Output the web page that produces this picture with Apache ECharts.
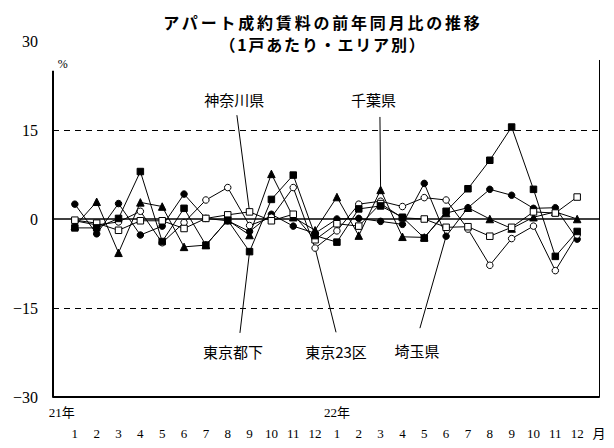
<!DOCTYPE html>
<html><head><meta charset="utf-8">
<script src="https://cdn.jsdelivr.net/npm/echarts@6/dist/echarts.min.js"></script>
<style>html,body{margin:0;padding:0;background:#fff}#c{width:614px;height:448px}</style>
</head><body><div id="c"></div>
<script>
// ---- data ----
const months = ['1','2','3','4','5','6','7','8','9','10','11','12','1','2','3','4','5','6','7','8','9','10','11','12'];
const years = ['21年', '22年'];
const unitX = '月';
const unitY = '%';
const yTicks = [-30, -15, 0, 15, 30];
const yTickLabels = ['−30', '−15', '0', '15', '30'];
const titleLines = ['アパート成約賃料の前年同月比の推移', '（1戸あたり・エリア別）'];
const regionNames = ['東京23区', '東京都下', '神奈川県', '埼玉県', '千葉県'];

const tokyo23 =   [-0.3, -1.0, -0.5, 1.3, -4.0, -0.6, 3.2, 5.3, -1.1, 0.3, 5.3, -4.9, -2.0, 2.5, 3.0, 2.1, 3.6, 3.2, -1.7, -7.8, -3.3, -1.2, -8.7, -2.7];
const tokyoSub =  [-1.5, -1.5, 0.1, 8.0, -3.8, 1.8, -4.4, -0.2, -5.5, 3.3, 7.4, -2.8, -3.9, 1.7, 2.2, 0.3, -3.2, 1.3, 5.1, 9.9, 15.5, 5.0, -6.3, -2.1];
const kanagawa =  [-0.2, -0.7, -1.9, -0.3, -0.3, -1.6, 0.1, 0.7, 1.2, -0.3, 0.8, -3.5, -0.8, -1.2, 2.6, 0.2, 0.0, -1.4, -1.3, -2.9, -1.4, 1.2, 1.0, 3.7];
const saitama =   [2.5, -2.5, 2.6, -2.7, -1.2, 4.2, 0.1, -0.3, -2.1, 0.8, -1.2, -2.4, 0.0, 0.1, -0.4, -0.9, 6.0, -2.9, 1.9, 5.0, 4.0, 1.8, 1.9, -3.4];
const chiba =     [-1.2, 2.9, -5.7, 2.8, 2.1, -4.7, -4.4, -0.2, -2.7, 7.6, 0.3, -1.9, 3.7, -2.8, 4.9, -3.0, -3.1, 1.0, 1.9, 0.0, -1.6, 0.3, 1.2, 0.0];

// ---- chart ----
const numFont = "'Liberation Serif','Noto Sans CJK JP',serif";
const cjkFont = "'Noto Sans CJK JP',sans-serif";
const chart = echarts.init(document.getElementById('c'), null, {renderer: 'svg'});

function mk(name, values, symbol, filled, z) {
  return {
    name: name, type: 'line', z: z,
    data: values.map((v, i) => [i, v]),
    symbol: symbol, symbolSize: symbol === 'triangle' ? 7.5 : 6.5,
    showSymbol: true, silent: true, clip: false,
    lineStyle: {color: '#000', width: 1},
    itemStyle: {color: filled ? '#000' : '#fff', borderColor: '#000', borderWidth: 1},
    emphasis: {disabled: true}
  };
}

const last = months.length - 1;
const sChiba = mk(regionNames[4], chiba, 'triangle', true, 3);
const sSaitama = mk(regionNames[3], saitama, 'circle', true, 4);
const sT23 = mk(regionNames[0], tokyo23, 'circle', false, 5);
const sKana = mk(regionNames[2], kanagawa, 'rect', false, 6);
const sTSub = mk(regionNames[1], tokyoSub, 'rect', true, 7);

const dash = {color: '#000', width: 1, type: [6, 5]};
sChiba.markLine = {
  silent: true, symbol: ['none', 'none'], label: {show: false}, animation: false,
  lineStyle: {color: '#000', width: 1, type: 'solid'},
  data: [
    [{coord: [-1, 15], lineStyle: dash}, {coord: [24, 15]}],
    [{coord: [-1, -15], lineStyle: dash}, {coord: [24, -15]}],
    [{coord: [-1, 0], lineStyle: {color: '#000', width: 1.5, type: 'solid'}}, {coord: [24, 0]}],
    [{coord: [-1, -30], lineStyle: {color: '#000', width: 2, type: 'solid'}}, {coord: [-1, 25]}],
    [{coord: [24, -30], lineStyle: {color: '#000', width: 1, type: 'solid'}}, {coord: [24, 26.8]}],
    // leader lines
    [{coord: [7.42, 17.5]}, {coord: [8, kanagawa[8]]}],
    [{coord: [13.97, 17.2]}, {coord: [14, chiba[14]]}],
    [{coord: [7.56, -19.2]}, {coord: [8, tokyoSub[8]]}],
    [{coord: [11.96, -19.1]}, {coord: [11, tokyo23[11]]}],
    [{coord: [15.8, -18.4]}, {coord: [17, saitama[17]]}]
  ]
};
sChiba.markPoint = {
  silent: true, animation: false,
  symbol: 'circle', symbolSize: 1, itemStyle: {color: 'rgba(0,0,0,0)'},
  label: {show: true, position: 'inside', formatter: '{b}', color: '#000', fontSize: 15, fontFamily: cjkFont},
  data: [
    {name: regionNames[2], coord: [7.3, 20.1]},
    {name: regionNames[4], coord: [13.67, 20.1]},
    {name: regionNames[1], coord: [7.24, -22.4]},
    {name: regionNames[0], coord: [11.96, -22.4]},
    {name: regionNames[3], coord: [15.67, -22.1]}
  ]
};

const option = {
  animation: false,
  backgroundColor: '#fff',
  title: {
    text: titleLines.join('\n'), left: 323, top: 11, textAlign: 'center', padding: 0,
    textStyle: {fontSize: 16, fontWeight: 'bold', fontFamily: cjkFont, color: '#000', lineHeight: 22}
  },
  grid: {left: 53, right: 15, top: 41, bottom: 51, containLabel: false},
  xAxis: {
    type: 'value', min: -1, max: 24, interval: 1,
    axisLine: {show: true, onZero: false, lineStyle: {color: '#000', width: 2}},
    axisTick: {show: false}, splitLine: {show: false},
    axisLabel: {
      margin: 30, fontSize: 13, fontFamily: numFont, color: '#000',
      showMinLabel: true, showMaxLabel: true,
      formatter: v => (v >= 0 && v <= last) ? months[v] : (v === months.length ? unitX : '')
    }
  },
  yAxis: {
    type: 'value', min: yTicks[0], max: yTicks[yTicks.length - 1], interval: 15,
    axisLine: {show: false}, axisTick: {show: false}, splitLine: {show: false},
    name: unitY, nameLocation: 'end', nameGap: -23,
    nameTextStyle: {align: 'right', verticalAlign: 'middle', padding: [0, 7, 0, 0], fontSize: 12, fontFamily: numFont, color: '#000'},
    axisLabel: {
      margin: 15, fontSize: 16, fontFamily: numFont, color: '#000',
      formatter: v => { const k = yTicks.indexOf(v); return k >= 0 ? yTickLabels[k] : ''; }
    }
  },
  series: [sChiba, sSaitama, sT23, sKana, sTSub]
};
chart.setOption(option);

// year labels under the axis
const yearAt = [-0.6, 12];
const g = years.map((t, k) => {
  const p = chart.convertToPixel({xAxisIndex: 0, yAxisIndex: 0}, [yearAt[k], yTicks[0]]);
  return {type: 'text', x: p[0], y: p[1] + 15, silent: true,
    style: {text: t, align: 'center', verticalAlign: 'middle', fontSize: 13, fontFamily: numFont, fill: '#000'}};
});
chart.setOption({graphic: g});

function spaceTitle() {
  document.querySelectorAll('#c svg text').forEach(t => {
    const s = (t.textContent || '').trim();
    if (s === titleLines[0]) t.style.letterSpacing = '2.8px';
    else if (s === titleLines[1]) t.style.letterSpacing = '1.8px';
  });
}
spaceTitle();
chart.on('finished', spaceTitle);
setTimeout(spaceTitle, 50);
</script>
</body></html>
